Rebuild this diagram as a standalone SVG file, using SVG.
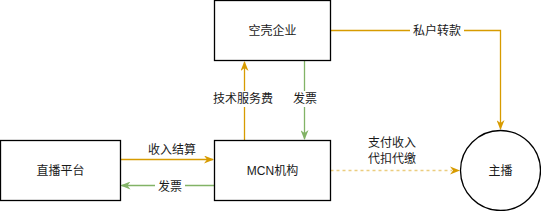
<svg xmlns="http://www.w3.org/2000/svg" width="541" height="211" viewBox="0 0 541 211">
<style>
.box{fill:#fff;stroke:#000;stroke-width:1.3}
.t{font-family:"Liberation Sans","Noto Sans CJK SC",sans-serif;font-size:12px;fill:#1a1a1a;text-anchor:middle;dominant-baseline:central}
.o{stroke:#d79b00;stroke-width:1.3;fill:none}
.g{stroke:#82b366;stroke-width:1.3;fill:none}
.lb{fill:#fff}
</style>
<defs>
<marker id="ao" viewBox="0 0 10 8" refX="9" refY="4" markerWidth="10" markerHeight="8" markerUnits="userSpaceOnUse" orient="auto">
<path d="M0,0 L10,4 L0,8 L3,4 Z" fill="#d79b00"/>
</marker>
<marker id="ag" viewBox="0 0 10 8" refX="9" refY="4" markerWidth="10" markerHeight="8" markerUnits="userSpaceOnUse" orient="auto">
<path d="M0,0 L10,4 L0,8 L3,4 Z" fill="#82b366"/>
</marker>
</defs>
<g id="connectors">
<path class="o" d="M120.5,159.5 H213" marker-end="url(#ao)"/>
<path class="g" d="M214,185.5 H121.5" marker-end="url(#ag)"/>
<path class="o" d="M244.5,140 V62" marker-end="url(#ao)"/>
<path class="g" d="M304.5,61 V139" marker-end="url(#ag)"/>
<path class="o" d="M330.5,30.5 H500.5 V129" marker-end="url(#ao)"/>
<path d="M330.5,170.5 H452" stroke="#d79b00" stroke-opacity="0.5" stroke-width="1.3" stroke-dasharray="3,3" fill="none"/>
<path d="M450,166.5 L460,170.5 L450,174.5 L453,170.5 Z" fill="#d79b00"/>
<rect class="lb" x="410" y="23" width="54" height="16"/>
<text class="t" x="437" y="31">私户转款</text>
<rect class="lb" x="211" y="91" width="66" height="16"/>
<text class="t" x="243" y="99">技术服务费</text>
<rect class="lb" x="291" y="91" width="28" height="16"/>
<text class="t" x="305" y="99">发票</text>
<text class="t" x="172" y="150">收入结算</text>
<rect class="lb" x="155" y="180" width="30" height="14"/>
<text class="t" x="170" y="187">发票</text>
<text class="t" x="392" y="143">支付收入</text>
<text class="t" x="392" y="159">代扣代缴</text>
</g>
<g id="node-shell">
<rect class="box" x="214.5" y="0.5" width="116" height="60"/>
<text class="t" x="272.5" y="31">空壳企业</text>
</g>
<g id="node-platform">
<rect class="box" x="0.5" y="140.5" width="120" height="60"/>
<text class="t" x="60.5" y="171">直播平台</text>
</g>
<g id="node-mcn">
<rect class="box" x="214.5" y="140.5" width="116" height="60"/>
<text class="t" x="272.5" y="171">MCN机构</text>
</g>
<g id="node-anchor">
<circle class="box" cx="500.5" cy="170.5" r="40"/>
<text class="t" x="500.5" y="171">主播</text>
</g>
</svg>
